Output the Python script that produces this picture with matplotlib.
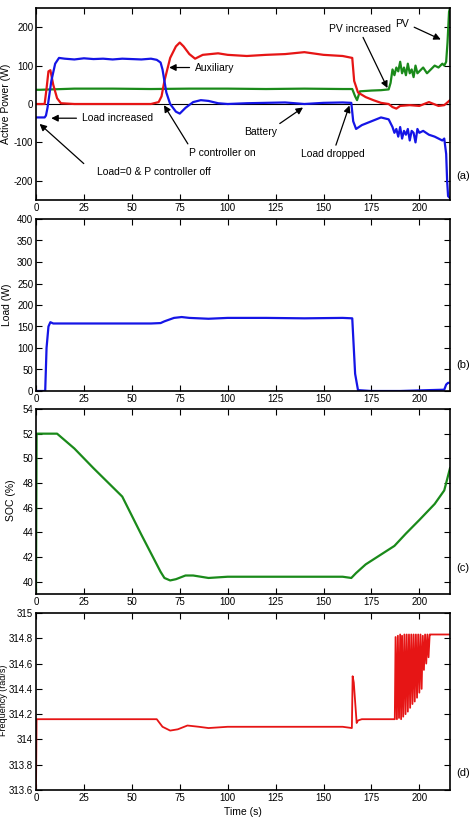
import matplotlib
matplotlib.use("Agg")
import matplotlib.pyplot as plt
from matplotlib.ticker import FuncFormatter

plt.rcParams['font.family'] = ['Liberation Sans', 'DejaVu Sans']
plt.rcParams['axes.unicode_minus'] = False

# ---------------- data ----------------
xticks = [0, 25, 50, 75, 100, 125, 150, 175, 200]

# (a) active power
bat_t = [0, 4.5, 5.2, 6, 8, 10, 12, 15, 20, 25, 30, 35, 40, 45, 50, 55, 60, 63, 65, 66, 68, 70, 73, 75, 78, 82, 86, 90, 95, 100, 110, 120, 130, 140, 150, 160, 164.5, 165.5, 167, 170, 175, 180, 184, 186, 187, 188, 189, 190, 191, 192, 193, 194, 195, 196, 197, 198, 199, 200, 202, 205, 208, 210, 212, 213, 214, 214.5, 215, 216]
bat_v = [-35, -35, -30, -10, 60, 105, 120, 118, 116, 119, 117, 118, 116, 118, 117, 116, 118, 115, 108, 90, 30, 0, -20, -25, -10, 5, 10, 8, 2, 0, 2, 3, 4, 0, 3, 4, 3, -45, -65, -55, -45, -35, -40, -60, -75, -65, -85, -60, -90, -70, -80, -65, -95, -70, -75, -100, -65, -75, -70, -80, -85, -90, -95, -90, -130, -200, -240, -245]

aux_t = [0, 4.5, 5.5, 6.5, 7.5, 9, 11, 13, 20, 30, 40, 50, 60, 64, 65.5, 67, 70, 73, 75, 77, 80, 83, 87, 95, 100, 110, 120, 130, 140, 150, 160, 165, 166, 168, 172, 176, 180, 184, 186, 188, 190, 195, 200, 205, 210, 213, 216]
aux_v = [0, 0, 40, 85, 88, 50, 15, 2, 0, 0, 0, 0, 0, 5, 20, 60, 120, 150, 160, 150, 130, 118, 128, 132, 128, 125, 128, 130, 135, 128, 125, 120, 60, 30, 18, 10, 3, 0, -8, -12, -5, -3, -5, 5, -5, -3, 10]

pv_t = [0, 2, 20, 40, 60, 80, 100, 120, 140, 160, 165, 166.5, 167.5, 169, 175, 180, 184, 185, 186, 187, 188, 189, 190, 191, 192, 193, 194, 195, 196, 197, 198, 199, 200, 202, 204, 206, 208, 210, 212, 213, 214, 214.7, 215.5, 216]
pv_v = [37, 37, 40, 40, 39, 40, 40, 39, 40, 39, 39, 20, 10, 33, 35, 36, 38, 55, 90, 75, 95, 85, 110, 80, 95, 75, 105, 80, 90, 70, 100, 80, 85, 95, 80, 90, 100, 95, 105, 100, 110, 160, 240, 250]

# (b) load
load_t = [0, 4.8, 5.5, 6.5, 7.5, 9, 20, 40, 60, 65, 67, 72, 76, 80, 90, 100, 120, 140, 160, 165, 166.5, 168, 175, 190, 205, 213, 214, 215, 216]
load_v = [0, 0, 100, 150, 160, 157, 157, 157, 157, 158, 162, 170, 172, 170, 168, 170, 170, 169, 170, 169, 40, 2, 0, 0, 2, 3, 15, 19, 19]

# (c) state of charge
soc_t = [0, 0.3, 5, 11, 20, 30, 45, 55, 65, 67, 70, 73, 78, 82, 90, 100, 120, 140, 150, 160, 164.5, 167, 172, 180, 187, 193, 200, 208, 213, 216]
soc_v = [39.2, 52, 52, 52, 50.8, 49.2, 46.9, 43.8, 40.8, 40.3, 40.1, 40.2, 40.5, 40.5, 40.3, 40.4, 40.4, 40.4, 40.4, 40.4, 40.3, 40.7, 41.4, 42.2, 42.9, 43.9, 45.0, 46.3, 47.4, 49.2]

# (d) frequency
freq_t = [0, 0.3, 20, 40, 60, 63, 66, 70, 74, 79, 85, 90, 100, 120, 140, 160, 164.8, 165.2, 165.8, 166.5, 167.3, 168, 170, 180, 187.2, 187.6, 188.3, 188.8, 189.4, 190, 190.5, 191, 191.6, 192.2, 192.8, 193.4, 194, 194.6, 195.2, 195.8, 196.4, 197, 197.6, 198.2, 198.8, 199.4, 200, 200.6, 201.2, 201.8, 202.4, 203, 203.6, 204.2, 204.8, 205.4, 206, 210, 216]
freq_v = [313.6, 314.16, 314.16, 314.16, 314.16, 314.16, 314.1, 314.07, 314.08, 314.11, 314.1, 314.09, 314.1, 314.1, 314.1, 314.1, 314.09, 314.5, 314.45, 314.3, 314.13, 314.15, 314.16, 314.16, 314.16, 314.81, 314.16, 314.82, 314.17, 314.83, 314.16, 314.82, 314.18, 314.83, 314.2, 314.83, 314.22, 314.83, 314.25, 314.83, 314.28, 314.83, 314.3, 314.83, 314.33, 314.83, 314.37, 314.83, 314.4, 314.82, 314.55, 314.83, 314.6, 314.83, 314.65, 314.83, 314.83, 314.83, 314.83]

BLUE = '#1515e6'
RED = '#e61515'
GREEN = '#1a8a1a'

W, H = 476, 822
fig = plt.figure(figsize=(W / 100, H / 100), dpi=100)


def make_ax(top, bottom):
    ax = fig.add_axes([36 / W, (H - bottom) / H, 414 / W, (bottom - top) / H])
    ax.set_xlim(0, 216)
    ax.set_xticks(xticks)
    ax.tick_params(direction='in', top=True, right=True, labelsize=7, length=4, width=0.8, pad=2)
    for s in ax.spines.values():
        s.set_linewidth(1.2)
    return ax


fmt = FuncFormatter(lambda v, p: '%g' % round(v, 6))

# panel a
ax1 = make_ax(8, 200)
ax1.axhline(0, color='black', lw=0.8)
ax1.plot(pv_t, pv_v, color=GREEN, lw=1.6)
ax1.plot(aux_t, aux_v, color=RED, lw=1.6)
ax1.plot(bat_t, bat_v, color=BLUE, lw=1.6)
ax1.set_ylim(-250, 250)
ax1.set_yticks([-200, -100, 0, 100, 200])
fig.text(6 / W, (H - 104) / H, 'Active Power (W)', rotation=90, ha='center', va='center', fontsize=7.5)

ap = dict(arrowstyle='-|>', color='black', lw=0.9, mutation_scale=10)
fs = 7.5
ax1.annotate('Auxiliary', xy=(68, 95), xytext=(83, 95), fontsize=fs, va='center', ha='left', arrowprops=ap)
ax1.annotate('Load increased', xy=(6.5, -37), xytext=(24, -37), fontsize=fs, va='center', ha='left', arrowprops=ap)
ax1.annotate('', xy=(0.8, -47), xytext=(26, -160), arrowprops=ap)
ax1.text(32, -178, 'Load=0 & P controller off', fontsize=fs, va='center', ha='left')
ax1.annotate('', xy=(66, 3), xytext=(80, -110), arrowprops=ap)
ax1.text(97, -127, 'P controller on', fontsize=fs, va='center', ha='center')
ax1.annotate('', xy=(140.5, -5), xytext=(126, -55), arrowprops=ap)
ax1.text(117, -72, 'Battery', fontsize=fs, va='center', ha='center')
ax1.annotate('', xy=(164, 3), xytext=(156, -114), arrowprops=ap)
ax1.text(155, -130, 'Load dropped', fontsize=fs, va='center', ha='center')
ax1.annotate('', xy=(184, 35), xytext=(170, 180), arrowprops=ap)
ax1.text(169, 196, 'PV increased', fontsize=fs, va='center', ha='center')
ax1.annotate('', xy=(212.5, 165), xytext=(196, 203), arrowprops=ap)
ax1.text(191, 208, 'PV', fontsize=fs, va='center', ha='center')

# panel b
ax2 = make_ax(219, 391)
ax2.plot(load_t, load_v, color=BLUE, lw=1.6)
ax2.set_ylim(0, 400)
ax2.set_yticks(range(0, 401, 50))
fig.text(7 / W, (H - 305) / H, 'Load (W)', rotation=90, ha='center', va='center', fontsize=7.5)

# panel c
ax3 = make_ax(409, 594)
ax3.plot(soc_t, soc_v, color=GREEN, lw=1.6)
ax3.set_ylim(39, 54)
ax3.set_yticks(range(40, 55, 2))
fig.text(11 / W, (H - 500) / H, 'SOC (%)', rotation=90, ha='center', va='center', fontsize=7.5)

# panel d
ax4 = make_ax(613, 790)
ax4.plot(freq_t, freq_v, color=RED, lw=1.3)
ax4.set_ylim(313.6, 315)
ax4.set_yticks([313.6, 313.8, 314, 314.2, 314.4, 314.6, 314.8, 315])
ax4.yaxis.set_major_formatter(fmt)
fig.text(4 / W, (H - 700) / H, 'Frequency (rad/s)', rotation=90, ha='center', va='center', fontsize=6.5)
fig.text(243 / W, (H - 812) / H, 'Time (s)', ha='center', va='center', fontsize=7.5)

for lbl, y in [('(a)', 176), ('(b)', 365), ('(c)', 568), ('(d)', 773)]:
    fig.text(463 / W, (H - y) / H, lbl, ha='center', va='center', fontsize=8)

fig.savefig('out.png', dpi=100)
